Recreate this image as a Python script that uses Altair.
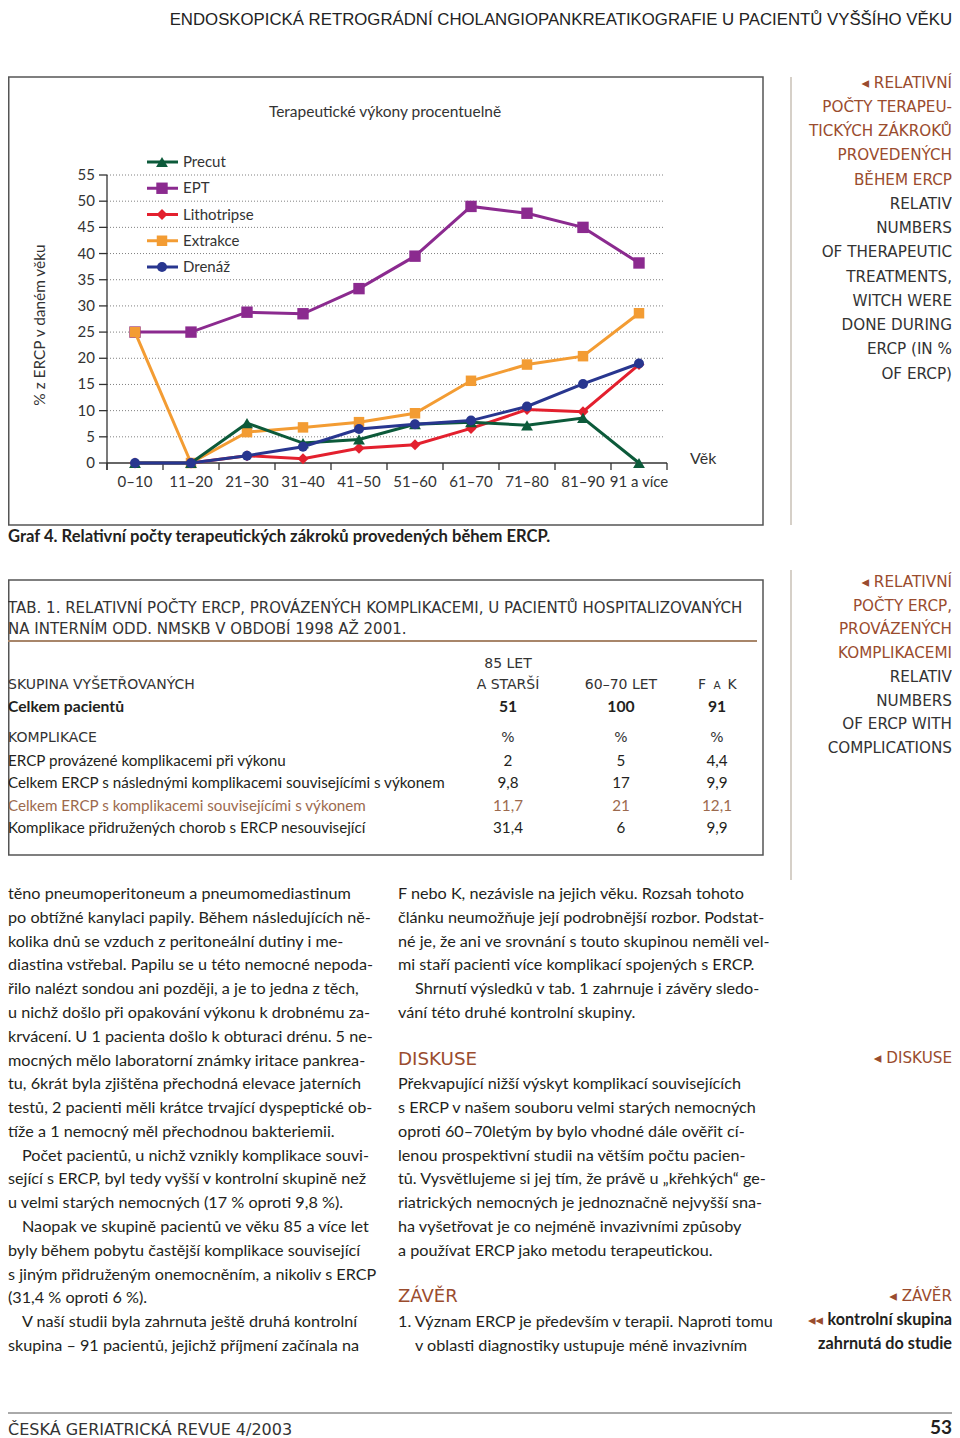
import altair as alt
import pandas as pd

P = 8  # page margin: chart coordinates = page coordinates - 8
RIGHT = 952  # right-most page x usable without overflow

# ---------------- chart data ----------------
ages = ["0–10", "11–20", "21–30", "31–40", "41–50", "51–60", "61–70", "71–80", "81–90", "91 a více"]
series_names = ["Precut", "EPT", "Lithotripse", "Extrakce", "Drenáž"]
precut = [0, 0, 7.6, 3.8, 4.5, 7.4, 7.8, 7.2, 8.6, 0]
ept = [25, 25, 28.8, 28.5, 33.3, 39.5, 49.0, 47.7, 45.0, 38.2]
lithotripse = [0, 0, 1.4, 0.8, 2.8, 3.5, 6.6, 10.2, 9.8, 18.8]
extrakce = [25, 0, 5.9, 6.8, 7.8, 9.5, 15.7, 18.8, 20.4, 28.6]
drenaz = [0, 0, 1.4, 3.1, 6.5, 7.4, 8.1, 10.8, 15.1, 19.0]
y_ticks = [0, 5, 10, 15, 20, 25, 30, 35, 40, 45, 50, 55]

series_colors = ["#0c5a3a", "#8b2a8f", "#e3202e", "#f39c33", "#28368f"]
series_shapes = ["triangle-up", "square", "diamond", "square", "circle"]
series_sizes = [140, 100, 50, 85, 85]
draw_order = ["EPT", "Lithotripse", "Extrakce", "Precut", "Drenáž"]

values = {"Precut": precut, "EPT": ept, "Lithotripse": lithotripse,
          "Extrakce": extrakce, "Drenáž": drenaz}

rows = []
for s in draw_order:
    for i, a in enumerate(ages):
        rows.append({"series": s, "i": i, "age": a, "value": values[s][i]})
df = pd.DataFrame(rows)

# ---------------- fonts & colours ----------------
BODY = "Lato"
CAPS = "DejaVu Sans"
HEAD = "Liberation Sans"
DARK = "#231f20"
GREY = "#333333"
BROWN = "#9a4c2e"
BROWN2 = "#9c6a4e"
CAPSZ = 15.2   # sidebar caps
TCAPS = 14     # table caps

xscale = alt.Scale(domain=[-0.5, len(ages) - 0.5], range=[107 - P, 667 - P], nice=False, zero=False)
yscale = alt.Scale(domain=[0, 55], range=[463 - P, 175 - P], nice=False, zero=False)
cscale = alt.Scale(domain=series_names, range=series_colors)
shscale = alt.Scale(domain=series_names, range=series_shapes)
szscale = alt.Scale(domain=series_names, range=series_sizes)

layers = []


def block(lines, x, y0, lh=23.79, size=15, font=BODY, color=DARK, weight="normal",
          align="left", angle=0, indent=None, ind_px=20):
    x = min(max(x, P), RIGHT)
    indent = indent or []
    d = pd.DataFrame({"t": lines, "i": list(range(len(lines))),
                      "ind": [1 if k in indent else 0 for k in range(len(lines))]})
    return alt.Chart(d).transform_calculate(
        py=f"{y0 - P} + datum.i * {lh}",
        px=f"{x - P} + datum.ind * {ind_px}",
    ).mark_text(
        align=align, baseline="middle", font=font, fontSize=size, color=color,
        fontWeight=weight, angle=angle
    ).encode(x=alt.X("px:Q", scale=None), y=alt.Y("py:Q", scale=None), text="t:N")


def box(x1, y1, x2, y2, color="#555555", width=1.5):
    return alt.Chart(pd.DataFrame({"a": [0]})).mark_rect(
        fillOpacity=0, stroke=color, strokeWidth=width
    ).encode(x=alt.value(x1), x2=alt.value(x2), y=alt.value(y1), y2=alt.value(y2))


def hline(x1, x2, y, color, width):
    return alt.Chart(pd.DataFrame({"a": [0]})).mark_rule(color=color, strokeWidth=width).encode(
        x=alt.value(x1), x2=alt.value(x2), y=alt.value(y))


def vline(x, y1, y2, color, width):
    return alt.Chart(pd.DataFrame({"a": [0]})).mark_rule(color=color, strokeWidth=width).encode(
        x=alt.value(x), y=alt.value(y1), y2=alt.value(y2))


# ---------------- frames ----------------
layers.append(box(0.75, 77 - P, 763 - P, 525 - P))
layers.append(box(0.75, 580 - P, 763 - P, 855 - P))
layers.append(vline(791 - P, 77 - P, 525 - P, "#c9c1b6", 1.5))
layers.append(vline(791 - P, 570 - P, 880 - P, "#c9c1b6", 1.5))
layers.append(hline(0, RIGHT - P, 1413 - P, "#555555", 1))
layers.append(hline(0, 757 - P, 641 - P, "#a8866a", 2))

# ---------------- axes (drawn from tick lists through the scales) ----------------
yt = pd.DataFrame({"v": y_ticks})
grid = alt.Chart(yt).transform_filter("datum.v > 0").mark_rule(
    color="#808080", strokeWidth=1, strokeDash=[1, 2]
).encode(y=alt.Y("v:Q", scale=yscale, axis=None), x=alt.value(107 - P), x2=alt.value(663 - P))
ytick = alt.Chart(yt).mark_rule(color=GREY, strokeWidth=1.3).encode(
    y=alt.Y("v:Q", scale=yscale, axis=None), x=alt.value(99 - P), x2=alt.value(107 - P))
ylab = alt.Chart(yt).mark_text(align="right", baseline="middle", font=BODY, fontSize=15,
                               color=GREY).encode(
    y=alt.Y("v:Q", scale=yscale, axis=None), x=alt.value(95 - P), text="v:Q")
yaxis = alt.Chart(pd.DataFrame({"a": [0]})).mark_rule(color=GREY, strokeWidth=1.3).encode(
    x=alt.value(107 - P), y=alt.YDatum(55, scale=yscale, axis=None), y2=alt.value(470 - P))
xaxis = alt.Chart(pd.DataFrame({"a": [0]})).mark_rule(color=GREY, strokeWidth=1.3).encode(
    y=alt.YDatum(0, scale=yscale, axis=None),
    x=alt.XDatum(-0.5, scale=xscale, axis=None), x2=alt.X2Datum(len(ages) - 0.5))
bd = pd.DataFrame({"b": [i - 0.5 for i in range(len(ages) + 1)]})
xtick = alt.Chart(bd).mark_rule(color=GREY, strokeWidth=1.3).encode(
    x=alt.X("b:Q", scale=xscale, axis=None), y=alt.YDatum(0, scale=yscale, axis=None),
    y2=alt.value(470 - P))
xl = pd.DataFrame({"age": ages, "i": list(range(len(ages)))})
xlab = alt.Chart(xl).mark_text(baseline="middle", font=BODY, fontSize=15, color=GREY).encode(
    x=alt.X("i:Q", scale=xscale, axis=None), y=alt.value(482 - P), text="age:N")
layers += [grid, ytick, yaxis, xaxis, xtick, ylab, xlab]

# ---------------- series ----------------
for s in draw_order:
    base = alt.Chart(df).transform_filter(alt.datum.series == s)
    enc = dict(
        x=alt.X("i:Q", scale=xscale, axis=None),
        y=alt.Y("value:Q", scale=yscale, axis=None),
        color=alt.Color("series:N", scale=cscale, legend=None),
    )
    layers.append(base.mark_line(strokeWidth=3).encode(**enc))
    layers.append(base.mark_point(filled=True, opacity=1).encode(
        shape=alt.Shape("series:N", scale=shscale, legend=None),
        size=alt.Size("series:N", scale=szscale, legend=None),
        **enc))

# ---------------- legend ----------------
lg = pd.DataFrame({"series": series_names, "k": list(range(len(series_names)))})
lbase = alt.Chart(lg).transform_calculate(py=f"{162 - P} + datum.k * 26.25")
ly = alt.Y("py:Q", scale=None)
lcol = alt.Color("series:N", scale=cscale, legend=None)
layers.append(lbase.mark_rule(strokeWidth=3).encode(
    x=alt.value(147 - P), x2=alt.value(178 - P), y=ly, color=lcol))
layers.append(lbase.mark_point(filled=True, opacity=1).encode(
    x=alt.value(162 - P), y=ly, color=lcol,
    shape=alt.Shape("series:N", scale=shscale, legend=None),
    size=alt.Size("series:N", scale=szscale, legend=None)))
layers.append(lbase.mark_text(align="left", baseline="middle", font=BODY, fontSize=15,
                              color=GREY).encode(x=alt.value(183 - P), y=ly, text="series:N"))

# ---------------- chart texts ----------------
layers.append(block(["Terapeutické výkony procentuelně"], 385, 112, size=15.5, color=GREY, align="center"))
layers.append(block(["% z ERCP v daném věku"], 40, 325, size=15.4, color=GREY, align="center", angle=270))
layers.append(block(["Věk"], 690, 459, size=16, color=GREY))

# ---------------- header / caption / footer ----------------
layers.append(block(["ENDOSKOPICKÁ RETROGRÁDNÍ CHOLANGIOPANKREATIKOGRAFIE U PACIENTŮ VYŠŠÍHO VĚKU"],
                    955, 19.5, size=16.8, font=HEAD, color="#222222", align="right"))
layers.append(block(["Graf 4. Relativní počty terapeutických zákroků provedených během ERCP."],
                    8, 537, size=16.6, weight="bold"))
layers.append(block(["ČESKÁ GERIATRICKÁ REVUE 4/2003"], 8, 1430, size=16, font=CAPS, color=GREY))
layers.append(block(["53"], 955, 1428, size=19, weight="bold", align="right"))

# ---------------- sidebars ----------------
side1_brown = ["◂ RELATIVNÍ", "POČTY TERAPEU-", "TICKÝCH ZÁKROKŮ", "PROVEDENÝCH", "BĚHEM ERCP"]
side1_dark = ["RELATIV", "NUMBERS", "OF THERAPEUTIC", "TREATMENTS,", "WITCH WERE",
              "DONE DURING", "ERCP (IN %", "OF ERCP)"]
layers.append(block(side1_brown, 954, 82.5, lh=24.25, size=CAPSZ, font=CAPS, color=BROWN, align="right"))
layers.append(block(side1_dark, 954, 82.5 + 5 * 24.25, lh=24.25, size=CAPSZ, font=CAPS, color=GREY, align="right"))

side2_brown = ["◂ RELATIVNÍ", "POČTY ERCP,", "PROVÁZENÝCH", "KOMPLIKACEMI"]
side2_dark = ["RELATIV", "NUMBERS", "OF ERCP WITH", "COMPLICATIONS"]
layers.append(block(side2_brown, 954, 582, lh=23.7, size=CAPSZ, font=CAPS, color=BROWN, align="right"))
layers.append(block(side2_dark, 954, 582 + 4 * 23.7, lh=23.7, size=CAPSZ, font=CAPS, color=GREY, align="right"))

layers.append(block(["◂ DISKUSE"], 954, 1058, size=CAPSZ, font=CAPS, color=BROWN, align="right"))
layers.append(block(["◂ ZÁVĚR"], 954, 1296, size=CAPSZ, font=CAPS, color=BROWN, align="right"))
layers.append(block(["◂◂"], 823, 1320, size=15, font=CAPS, color=BROWN, align="right"))
layers.append(block(["kontrolní skupina", "zahrnutá do studie"], 954, 1320, lh=23.5, size=16.2,
                    weight="bold", align="right"))

# ---------------- table ----------------
tab_title = ["TAB. 1. RELATIVNÍ POČTY ERCP, PROVÁZENÝCH KOMPLIKACEMI, U PACIENTŮ HOSPITALIZOVANÝCH",
             "NA INTERNÍM ODD. NMSKB V OBDOBÍ 1998 AŽ 2001."]
layers.append(block(tab_title, 8, 607.5, lh=21.5, size=15, font=CAPS, color=GREY))
layers.append(block(["SKUPINA VYŠETŘOVANÝCH"], 8, 685, size=TCAPS, font=CAPS, color=GREY))
layers.append(block(["85 LET", "A STARŠÍ"], 508, 664, lh=21, size=TCAPS, font=CAPS, color=GREY, align="center"))
layers.append(block(["60–70 LET"], 621, 685, size=TCAPS, font=CAPS, color=GREY, align="center"))
layers.append(block(["F"], 702, 685, size=TCAPS, font=CAPS, color=GREY, align="center"))
layers.append(block(["A"], 717, 686, size=10.5, font=CAPS, color=GREY, align="center"))
layers.append(block(["K"], 732, 685, size=TCAPS, font=CAPS, color=GREY, align="center"))
layers.append(block(["Celkem pacientů"], 8, 707, size=15.7, weight="bold"))
layers.append(block(["KOMPLIKACE"], 8, 738, size=TCAPS, font=CAPS, color=GREY))

row_labels = ["ERCP provázené komplikacemi při výkonu",
              "Celkem ERCP s  následnými komplikacemi souvisejícími s výkonem",
              "Celkem ERCP s komplikacemi souvisejícími s  výkonem",
              "Komplikace přidružených chorob s  ERCP nesouvisející"]
col_85 = ["2", "9,8", "11,7", "31,4"]
col_6070 = ["5", "17", "21", "6"]
col_fk = ["4,4", "9,9", "12,1", "9,9"]
totals = ["51", "100", "91"]
col_x = [508, 621, 717]
row_y = [760.5, 783, 805.5, 828]

for cx, t in zip(col_x, totals):
    layers.append(block([t], cx, 707, size=15.7, weight="bold", align="center"))
    layers.append(block(["%"], cx, 738, size=TCAPS, font=CAPS, color=GREY, align="center"))
for r in range(len(row_labels)):
    colr = BROWN2 if r == 2 else DARK
    layers.append(block([row_labels[r]], 8, row_y[r], size=15.2, color=colr))
    for cx, col in zip(col_x, [col_85, col_6070, col_fk]):
        layers.append(block([col[r]], cx, row_y[r], size=15.2, color=colr, align="center"))

# ---------------- body text ----------------
left_col = [
    "těno pneumoperitoneum a pneumomediastinum",
    "po obtížné kanylaci papily. Během následujících ně-",
    "kolika dnů se vzduch z peritoneální dutiny i me-",
    "diastina vstřebal. Papilu se u této nemocné nepoda-",
    "řilo nalézt sondou ani později, a je to jedna z těch,",
    "u nichž došlo při opakování výkonu k drobnému za-",
    "krvácení. U 1 pacienta došlo k obturaci drénu. 5 ne-",
    "mocných mělo laboratorní známky iritace pankrea-",
    "tu, 6krát byla zjištěna přechodná elevace jaterních",
    "testů, 2 pacienti měli krátce trvající dyspeptické ob-",
    "tíže a 1 nemocný měl přechodnou bakteriemii.",
    "Počet pacientů, u nichž vznikly komplikace souvi-",
    "sející s ERCP, byl tedy vyšší v kontrolní skupině než",
    "u velmi starých nemocných (17 % oproti 9,8 %).",
    "Naopak ve skupině pacientů ve věku 85 a více let",
    "byly během pobytu častější komplikace související",
    "s jiným přidruženým onemocněním, a nikoliv s ERCP",
    "(31,4 % oproti 6 %).",
    "V naší studii byla zahrnuta ještě druhá kontrolní",
    "skupina – 91 pacientů, jejichž příjmení začínala na",
]
LH = 23.79
BSZ = 16.2
layers.append(block(left_col, 3, 894, lh=LH, size=BSZ, indent=[11, 14, 18], ind_px=14))

right_a = [
    "F nebo K, nezávisle na jejich věku. Rozsah tohoto",
    "článku neumožňuje její podrobnější rozbor. Podstat-",
    "né je, že ani ve srovnání s touto skupinou neměli vel-",
    "mi staří pacienti více komplikací spojených s ERCP.",
    "Shrnutí výsledků v tab. 1 zahrnuje i závěry sledo-",
    "vání této druhé kontrolní skupiny.",
]
right_b = [
    "Překvapující nižší výskyt komplikací souvisejících",
    "s ERCP v našem souboru velmi starých nemocných",
    "oproti 60–70letým by bylo vhodné dále ověřit cí-",
    "lenou prospektivní studii na větším počtu pacien-",
    "tů. Vysvětlujeme si jej tím, že právě u „křehkých“ ge-",
    "riatrických nemocných je jednoznačně nejvyšší sna-",
    "ha vyšetřovat je co nejméně invazivními způsoby",
    "a používat ERCP jako metodu terapeutickou.",
]
right_c = [
    "1. Význam ERCP je především v terapii. Naproti tomu",
    "v oblasti diagnostiky ustupuje méně invazivním",
]
layers.append(block(right_a, 398, 894, lh=LH, size=BSZ, indent=[4], ind_px=17))
layers.append(block(["DISKUSE"], 398, 894 + 7 * LH - 1, size=18.3, font=CAPS, color=BROWN))
layers.append(block(right_b, 398, 894 + 8 * LH, lh=LH, size=BSZ))
layers.append(block(["ZÁVĚR"], 398, 894 + 17 * LH - 1, size=18, font=CAPS, color=BROWN))
layers.append(block(right_c, 398, 894 + 18 * LH, lh=LH, size=BSZ, indent=[1], ind_px=17))

chart = alt.layer(*layers).properties(
    width=RIGHT - P, height=1430, padding=0,
    autosize=alt.AutoSizeParams(type="none"),
    background="white",
).configure_view(stroke=None)

chart.save("out.html", embed_options={"renderer": "svg", "actions": False})
